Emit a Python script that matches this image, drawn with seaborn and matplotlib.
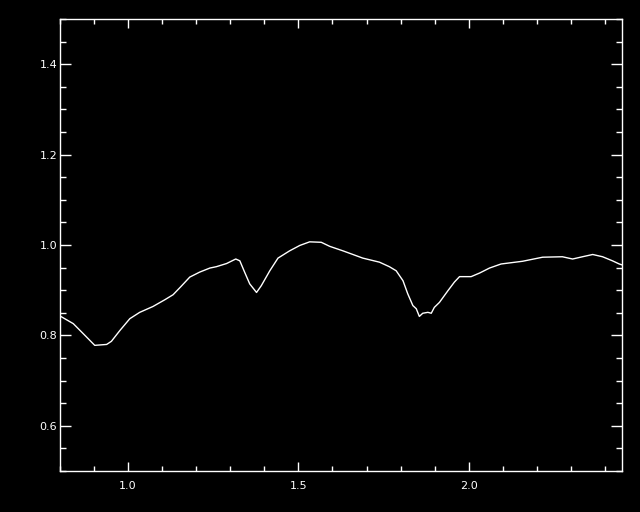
import matplotlib
matplotlib.use("Agg")
import matplotlib.pyplot as plt
import seaborn as sns
import pandas as pd
from matplotlib.ticker import MultipleLocator

wavelength = [0.800, 0.839, 0.868, 0.902, 0.937, 0.951, 0.976, 1.005, 1.034, 1.073,
              1.108, 1.132, 1.155, 1.181, 1.210, 1.240, 1.259, 1.289, 1.316, 1.328,
              1.342, 1.357, 1.377, 1.391, 1.416, 1.440, 1.474, 1.504, 1.533, 1.567,
              1.592, 1.631, 1.689, 1.738, 1.767, 1.787, 1.807, 1.821, 1.836, 1.846,
              1.855, 1.865, 1.880, 1.890, 1.899, 1.914, 1.939, 1.958, 1.973, 2.007,
              2.032, 2.061, 2.095, 2.158, 2.217, 2.275, 2.305, 2.334, 2.364, 2.393,
              2.422, 2.442, 2.450]
flux = [0.843, 0.826, 0.804, 0.778, 0.780, 0.787, 0.811, 0.837, 0.851, 0.864,
        0.879, 0.890, 0.908, 0.929, 0.940, 0.949, 0.952, 0.959, 0.969, 0.965,
        0.940, 0.914, 0.895, 0.910, 0.943, 0.971, 0.987, 0.999, 1.007, 1.006,
        0.997, 0.987, 0.971, 0.962, 0.952, 0.943, 0.921, 0.892, 0.866, 0.859,
        0.842, 0.849, 0.851, 0.849, 0.862, 0.873, 0.899, 0.918, 0.930, 0.930,
        0.938, 0.949, 0.958, 0.964, 0.973, 0.974, 0.969, 0.974, 0.979, 0.974,
        0.965, 0.958, 0.956]

df = pd.DataFrame({"x": wavelength, "y": flux})

sns.set_style("dark")
plt.rcParams["font.family"] = ["DejaVu Sans"]

fig = plt.figure(figsize=(6.4, 5.12), dpi=100, facecolor="black")
ax = fig.add_axes([60/640, 1 - 471/512, 562/640, 452/512])
ax.set_facecolor("black")

sns.lineplot(data=df, x="x", y="y", ax=ax, color="white", linewidth=1.0)

ax.set_xlim(0.8, 2.45)
ax.set_ylim(0.5, 1.5)
ax.set_xlabel("")
ax.set_ylabel("")
ax.grid(False)

ax.xaxis.set_major_locator(MultipleLocator(0.5))
ax.xaxis.set_minor_locator(MultipleLocator(0.1))
ax.yaxis.set_major_locator(MultipleLocator(0.2))
ax.yaxis.set_minor_locator(MultipleLocator(0.05))
ax.set_xticks([1.0, 1.5, 2.0])
ax.set_xticklabels(["1.0", "1.5", "2.0"])
ax.set_yticks([0.6, 0.8, 1.0, 1.2, 1.4])
ax.set_yticklabels(["0.6", "0.8", "1.0", "1.2", "1.4"])

for s in ax.spines.values():
    s.set_color("white")
    s.set_linewidth(1.0)
    s.set_visible(True)

ax.tick_params(axis="x", which="major", direction="in", length=6.5, width=1,
               color="white", labelcolor="white", labelsize=8, top=True, bottom=True, pad=7)
ax.tick_params(axis="x", which="minor", direction="in", length=3.4, width=1,
               color="white", top=True, bottom=True)
ax.tick_params(axis="y", which="major", direction="in", length=8.2, width=1,
               color="white", labelcolor="white", labelsize=8, left=True, right=True, pad=2)
ax.tick_params(axis="y", which="minor", direction="in", length=4.5, width=1,
               color="white", left=True, right=True)

fig.savefig("out.png", dpi=100, facecolor="black")
